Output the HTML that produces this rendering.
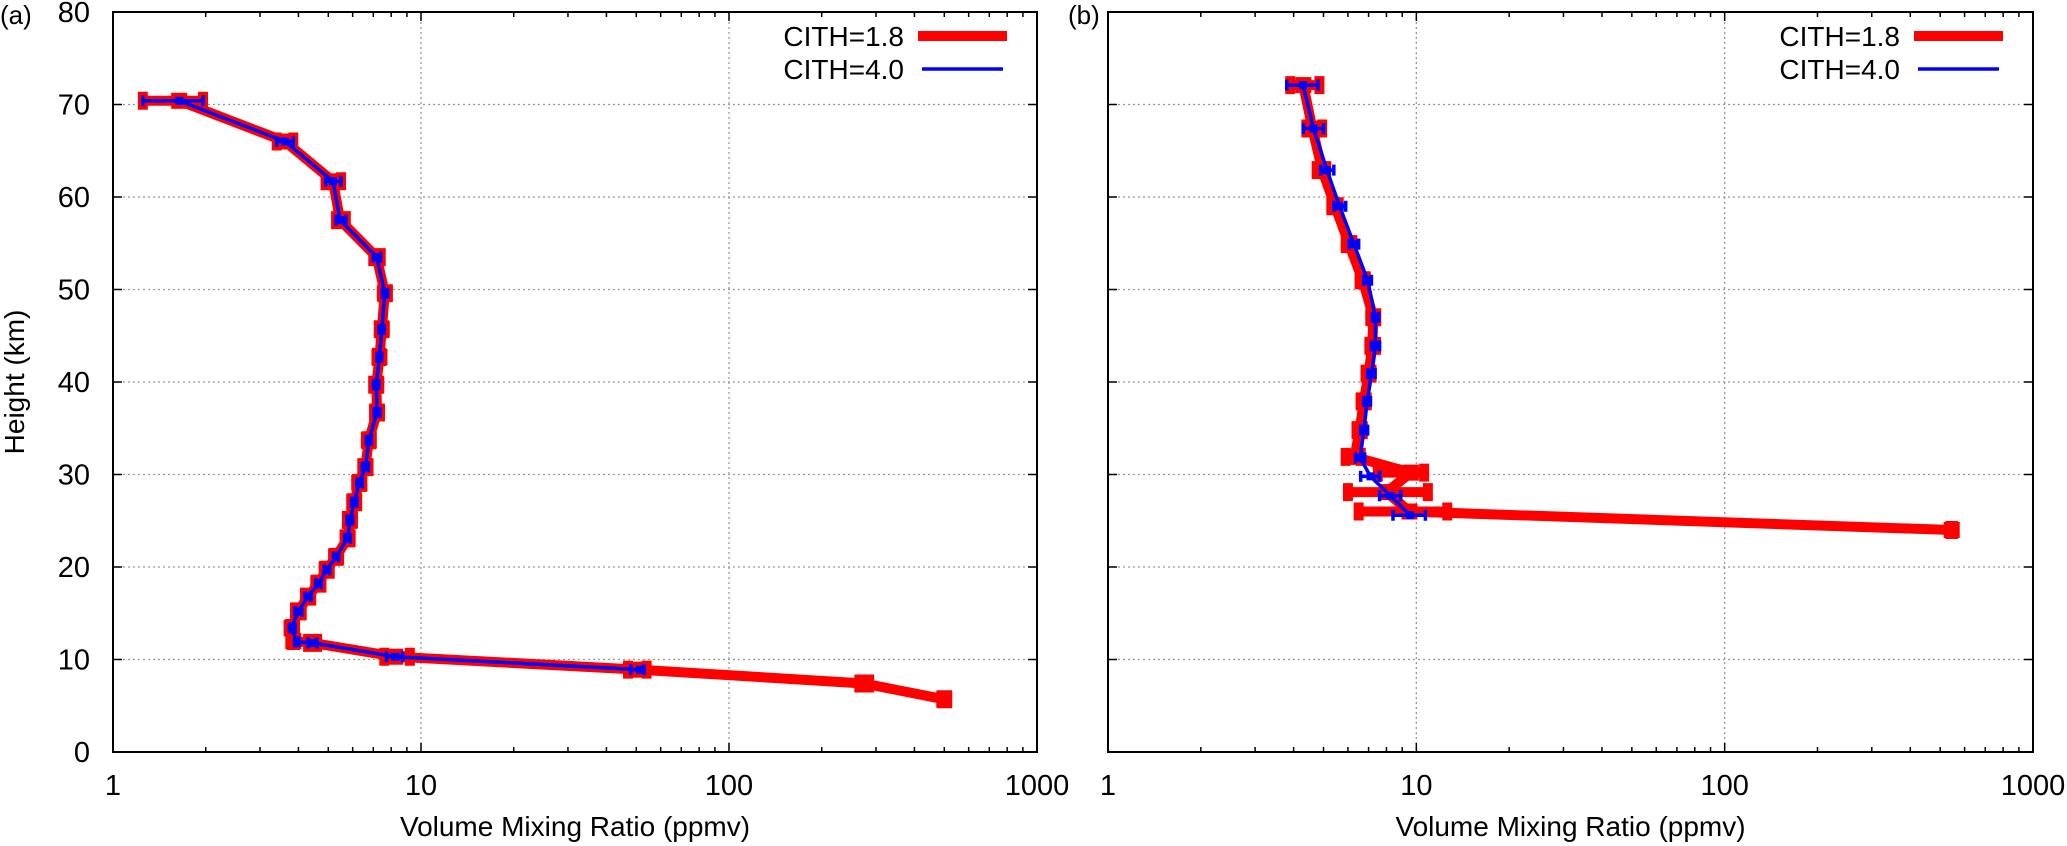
<!DOCTYPE html>
<html><head><meta charset="utf-8">
<style>
html,body{margin:0;padding:0;background:#fff;}
svg{display:block;font-family:"Liberation Sans",sans-serif;}
</style></head>
<body>
<svg id="chart" width="2067" height="846" viewBox="0 0 2067 846" xmlns="http://www.w3.org/2000/svg"></svg>
<script>
// ---- data ----
const xTickValues = [1, 10, 100, 1000];
const xTickLabels = ["1", "10", "100", "1000"];
const yTickValues = [0, 10, 20, 30, 40, 50, 60, 70, 80];
const seriesNames = ["CITH=1.8", "CITH=4.0"];
// Panel (a)
const aBlueX  = [1.64,3.62,5.18,5.46,7.18,7.63,7.46,7.33,7.16,7.2,6.77,6.6,6.3,6.07,5.88,5.78,5.3,4.94,4.64,4.30,3.99,3.80,3.95,4.45,8.25,51.4];
const aBlueH  = [70.4,66.0,61.7,57.5,53.5,49.6,45.7,42.7,39.7,36.7,33.7,30.8,29.1,27.0,25.1,23.1,21.1,19.7,18.2,16.8,15.2,13.4,11.9,11.8,10.3,8.9];
const aBlueLo = [1.25,3.4,4.9,5.3,7.0,7.5,7.3,7.2,7.0,7.05,6.65,6.45,6.2,5.95,5.75,5.65,5.2,4.85,4.55,4.2,3.9,3.75,3.9,4.3,7.73,48];
const aBlueHi = [1.96,3.85,5.5,5.7,7.4,7.8,7.6,7.45,7.3,7.35,6.9,6.75,6.45,6.2,6.0,5.9,5.4,5.05,4.75,4.4,4.1,3.9,4.0,4.6,8.72,53];
const aRedX  = [1.64,3.62,5.18,5.46,7.18,7.63,7.46,7.33,7.16,7.2,6.77,6.6,6.3,6.07,5.88,5.78,5.3,4.94,4.64,4.30,3.99,3.80,3.85,4.45,8.25,51.4,274,500];
const aRedH  = [70.4,66.0,61.7,57.5,53.5,49.6,45.7,42.7,39.7,36.7,33.7,30.8,29.1,27.0,25.1,23.1,21.1,19.7,18.2,16.8,15.2,13.4,12.0,11.8,10.3,8.9,7.4,5.7];
const aRedLo = [1.25,3.4,4.9,5.3,7.0,7.5,7.3,7.2,7.0,7.05,6.65,6.45,6.2,5.95,5.75,5.65,5.2,4.85,4.55,4.2,3.9,3.75,3.8,4.3,7.6,47,265,490];
const aRedHi = [1.96,3.85,5.5,5.7,7.4,7.8,7.6,7.45,7.3,7.35,6.9,6.75,6.45,6.2,6.0,5.9,5.4,5.05,4.75,4.4,4.1,3.9,3.9,4.6,9.2,54,285,510];
// Panel (b)
const bBlueX  = [4.29,4.64,5.13,5.64,6.28,6.95,7.37,7.37,7.15,6.93,6.76,6.57,7.1,8.24,9.55];
const bBlueH  = [72.1,67.4,62.9,59.0,54.9,51.0,47.0,43.9,40.9,37.9,34.8,31.8,29.8,27.7,25.6];
const bBlueLo = [3.8,4.3,4.9,5.4,6.05,6.75,7.2,7.15,6.95,6.75,6.6,6.35,6.6,7.6,8.4];
const bBlueHi = [4.8,5.0,5.4,5.9,6.5,7.15,7.55,7.6,7.35,7.1,6.95,6.8,7.6,8.9,10.7];
const bRedX  = [4.3,4.6,4.95,5.45,6.05,6.7,7.25,7.2,7.0,6.75,6.55,6.3,9.6,8.0,9.5,545];
const bRedH  = [72.1,67.4,62.9,59.0,54.9,51.0,47.0,43.9,40.9,37.9,34.8,31.9,30.2,28.1,26.0,24.0];
const bRedLo = [3.9,4.4,4.75,5.3,5.9,6.55,7.1,7.05,6.85,6.6,6.4,5.9,7.5,6.0,6.5,540];
const bRedHi = [4.85,4.95,5.1,5.6,6.2,6.85,7.4,7.4,7.15,6.9,6.7,6.6,10.6,10.9,12.6,550];

const NS = "http://www.w3.org/2000/svg";
const svg = document.getElementById("chart");
function mk(tag, attrs, parent){
  const e = document.createElementNS(NS, tag);
  for (const k in attrs) e.setAttribute(k, attrs[k]);
  (parent||svg).appendChild(e);
  return e;
}
const TOP = 12, BOT = 752;
function yS(h){ return BOT - (h/80)*(BOT-TOP); }

function drawPanel(left, right, label, labelX, showYLabels, red, blue, pname){
  const g = mk("g", {});
  
  
  const dec = (right-left)/3;
  const xS = v => left + dec*Math.log10(v);
  for (const v of xTickValues.slice(1,3)) {
    const l = mk("line",{x1:xS(v),x2:xS(v),y1:TOP,y2:BOT,stroke:"#999","stroke-width":1.3,"stroke-dasharray":"2,3"},g);
    
    
  }
  for (const h of yTickValues.slice(1,8)) {
    const l = mk("line",{x1:left,x2:right,y1:yS(h),y2:yS(h),stroke:"#999","stroke-width":1.3,"stroke-dasharray":"2,3"},g);
    
    
  }
  for (let d=0; d<3; d++) for (let m=1; m<=9; m++) {
    const v = Math.pow(10,d)*m; const x = xS(v); const len = m===1?9:5;
    mk("line",{x1:x,x2:x,y1:BOT,y2:BOT-len,stroke:"#000","stroke-width":1.5},g);
    mk("line",{x1:x,x2:x,y1:TOP,y2:TOP+len,stroke:"#000","stroke-width":1.5},g);
  }
  for (const h of yTickValues) {
    mk("line",{x1:left,x2:left+9,y1:yS(h),y2:yS(h),stroke:"#000","stroke-width":1.5},g);
    mk("line",{x1:right,x2:right-9,y1:yS(h),y2:yS(h),stroke:"#000","stroke-width":1.5},g);
    if (showYLabels) {
      const t = mk("text",{x:90,y:yS(h)+10,"font-size":29,"text-anchor":"end"},g);
      t.textContent = h;
      
      
    }
  }
  xTickValues.forEach((v,i)=>{
    const t = mk("text",{x:xS(v),y:795,"font-size":29,"text-anchor":"middle"},g);
    t.textContent = xTickLabels[i];
    
    
  });
  const xt = mk("text",{x:(left+right)/2,y:836,"font-size":28,"text-anchor":"middle"},g);
  xt.textContent = "Volume Mixing Ratio (ppmv)";
  
  
  const pl = mk("text",{x:labelX,y:24,"font-size":26},g);
  pl.textContent = label;
  
  

  function series(X,H,LO,HI,color,lw,capH,mk2,name){
    const sg = mk("g",{},g);
    
    
    const pts = X.map((v,i)=>xS(v).toFixed(1)+","+yS(H[i]).toFixed(1)).join(" ");
    mk("polyline",{points:pts,fill:"none",stroke:color,"stroke-width":lw,"stroke-linejoin":"miter","stroke-miterlimit":2},sg);
    X.forEach((v,i)=>{
      const y = yS(H[i]), x1 = xS(LO[i]), x2 = xS(HI[i]);
      const eb = mk("path",{d:`M${x1},${y}H${x2}M${x1},${y-capH/2}V${y+capH/2}M${x2},${y-capH/2}V${y+capH/2}`,stroke:color,"stroke-width":lw,fill:"none"},sg);
      
      
      const p = mk("rect",{x:xS(v)-mk2/2,y:y-mk2/2,width:mk2,height:mk2,fill:color},sg);
      
      
    });
  }
  series(red[0],red[1],red[2],red[3],"#ff0000",10,18,16,"series-cith-1-8");
  series(blue[0],blue[1],blue[2],blue[3],"#0000ff",3.5,11,8,"series-cith-4-0");

  const fr = mk("rect",{x:left,y:TOP,width:right-left,height:BOT-TOP,fill:"none",stroke:"#000","stroke-width":2},g);
  
  

  const lg = mk("g",{},g);
  
  
  const rows = [[36,"#ff0000",10],[69,"#0000ff",3.5]];
  rows.forEach((r,i)=>{
    const t = mk("text",{x:right-133,y:r[0]+10,"font-size":28,"text-anchor":"end"},lg);
    t.textContent = seriesNames[i];
    
    
    mk("line",{x1:right-119+(i?4:0),x2:right-30-(i?4:0),y1:r[0],y2:r[0],stroke:r[1],"stroke-width":r[2]},lg);
  });
}
drawPanel(113,1037,"(a)",0,true,[aRedX,aRedH,aRedLo,aRedHi],[aBlueX,aBlueH,aBlueLo,aBlueHi],"panel-a");
drawPanel(1108,2033,"(b)",1068,false,[bRedX,bRedH,bRedLo,bRedHi],[bBlueX,bBlueH,bBlueLo,bBlueHi],"panel-b");

const yt = mk("text",{x:0,y:0,"font-size":28,"text-anchor":"middle",transform:"translate(24,382) rotate(-90)"});
yt.textContent = "Height (km)";


</script>
</body></html>
